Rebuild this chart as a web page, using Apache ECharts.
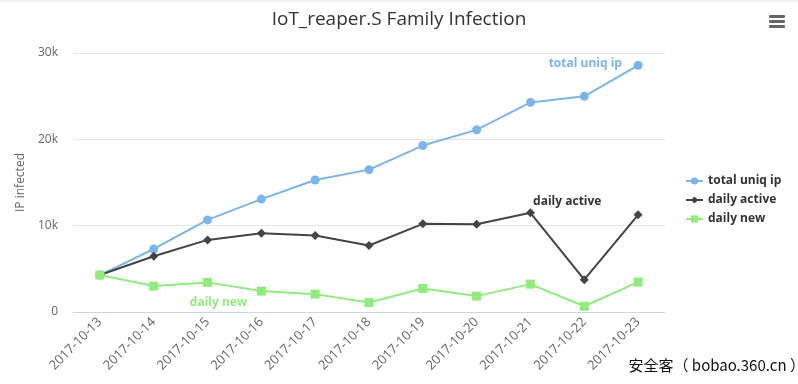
<!DOCTYPE html>
<html><head><meta charset="utf-8">
<script src="https://cdn.jsdelivr.net/npm/echarts@6/dist/echarts.min.js"></script>
<style>html,body{margin:0;padding:0;background:#fff}#c{width:798px;height:384px}</style>
</head><body><div id="c"></div>
<script>
const categories = ['2017-10-13','2017-10-14','2017-10-15','2017-10-16','2017-10-17','2017-10-18','2017-10-19','2017-10-20','2017-10-21','2017-10-22','2017-10-23'];
const totalUniqIp = [4280, 7300, 10670, 13080, 15290, 16490, 19280, 21100, 24280, 24980, 28580];
const dailyActive = [4280, 6450, 8350, 9130, 8860, 7700, 10210, 10170, 11490, 3740, 11260];
const dailyNew = [4280, 3000, 3430, 2420, 2070, 1100, 2730, 1840, 3230, 670, 3470];
const yTicks = [0, 10000, 20000, 30000];

const FONT = '"Open Sans", "DejaVu Sans", sans-serif';
const chart = echarts.init(document.getElementById('c'));
function annot(text, color, coord, offset) {
  return { symbol: 'circle', symbolSize: 0, data: [{ coord: coord, value: text }],
    label: { show: true, position: 'inside', offset: offset, formatter: text, color: color, fontWeight: 'bold', fontSize: 12, fontFamily: FONT } };
}
chart.setOption({
  animation: false,
  textStyle: { fontFamily: FONT },
  title: { text: 'IoT_reaper.S Family Infection', left: 'center', top: 5,
    textStyle: { fontSize: 19, fontWeight: 'normal', color: '#333', fontFamily: FONT } },
  grid: { left: 73, right: 133, top: 53, bottom: 72, containLabel: false },
  legend: { orient: 'vertical', left: 685, top: 175, padding: 0, itemWidth: 17, itemHeight: 9, itemGap: 7,
    textStyle: { fontWeight: 'bold', fontSize: 12, color: '#333' },
    data: ['total uniq ip', 'daily active', 'daily new'] },
  xAxis: { type: 'category', data: categories, boundaryGap: true,
    axisLine: { lineStyle: { color: '#ccd6eb' } },
    axisTick: { alignWithLabel: true, length: 10, lineStyle: { color: '#ccd6eb' } },
    axisLabel: { rotate: 45, color: '#666', fontSize: 13, margin: 8 } },
  yAxis: { type: 'value', min: 0, max: 30000, interval: 10000,
    name: 'IP infected', nameLocation: 'middle', nameGap: 46, nameRotate: 90,
    nameTextStyle: { color: '#666', fontSize: 12 },
    axisLine: { show: false }, axisTick: { show: false },
    splitLine: { lineStyle: { color: '#e6e6e6' } },
    axisLabel: { color: '#666', fontSize: 12, margin: 15,
      formatter: v => yTicks.includes(v) ? (v === 0 ? '0' : (v / 1000) + 'k') : '' } },
  series: [
    { name: 'total uniq ip', type: 'line', data: totalUniqIp, symbol: 'circle', symbolSize: 9,
      itemStyle: { color: '#7cb5ec' }, lineStyle: { width: 2, color: '#7cb5ec' },
      markPoint: annot('total uniq ip', '#7cb5ec', [9, 28750], [1, 0]) },
    { name: 'daily active', type: 'line', data: dailyActive, symbol: 'diamond', symbolSize: 9,
      itemStyle: { color: '#434348' }, lineStyle: { width: 2, color: '#434348' },
      markPoint: annot('daily active', '#333', [9, 12750], [-17, 0]) },
    { name: 'daily new', type: 'line', data: dailyNew, symbol: 'rect', symbolSize: 9,
      itemStyle: { color: '#90ed7d' }, lineStyle: { width: 2, color: '#90ed7d' },
      markPoint: annot('daily new', '#90ed7d', [2, 1100], [11, 0]) }
  ],
  graphic: [
    { type: 'rect', left: 0, top: 0, shape: { width: 798, height: 2 }, style: { fill: '#eeeeee' } },
    { type: 'group', left: 769, top: 15, children: [
      { type: 'rect', shape: { x: 0, y: 0, width: 16, height: 3, r: 1 }, style: { fill: '#666' } },
      { type: 'rect', shape: { x: 0, y: 5, width: 16, height: 3, r: 1 }, style: { fill: '#666' } },
      { type: 'rect', shape: { x: 0, y: 10, width: 16, height: 3, r: 1 }, style: { fill: '#666' } }
    ] },
    { type: 'text', left: 627, top: 356, style: { text: '安全客（ bobao.360.cn ）', fontSize: 15,
      fontFamily: '"Noto Sans CJK SC", sans-serif', fill: '#111', stroke: '#fff', lineWidth: 3 } }
  ]
});
</script></body></html>
